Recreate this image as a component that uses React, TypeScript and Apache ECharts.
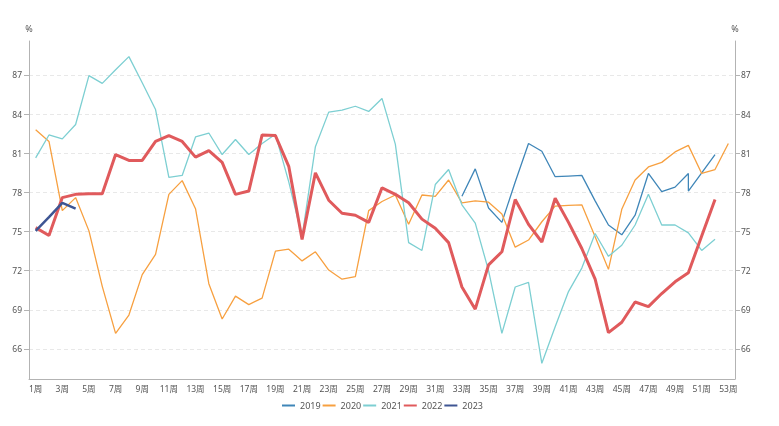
import React, { useEffect, useRef } from "react";
import * as echarts from "echarts";

const weeks = [
  "1周", "2周", "3周", "4周", "5周", "6周", "7周", "8周", "9周", "10周",
  "11周", "12周", "13周", "14周", "15周", "16周", "17周", "18周", "19周", "20周",
  "21周", "22周", "23周", "24周", "25周", "26周", "27周", "28周", "29周", "30周",
  "31周", "32周", "33周", "34周", "35周", "36周", "37周", "38周", "39周", "40周",
  "41周", "42周", "43周", "44周", "45周", "46周", "47周", "48周", "49周", "50周",
  "51周", "52周", "53周",
];

const yTicks = [66, 69, 72, 75, 78, 81, 84, 87];
const yMin = 63.7;
const yMax = 89.6;

const weeks2019 = [
  "33周", "34周", "35周", "36周", "37周", "38周", "39周", "40周", "41周", "42周",
  "43周", "44周", "45周", "46周", "47周", "48周", "49周", "50周", "50周", "51周", "52周",
];
const values2019 = [
  77.7, 79.8, 76.8, 75.7, 78.8, 81.75, 81.15, 79.2, 79.25, 79.3,
  77.35, 75.5, 74.75, 76.25, 79.45, 78.05, 78.4, 79.45, 78.1, 79.5, 80.9,
];

const values2020 = [
  82.8, 81.9, 76.6, 77.6, 75.05, 70.8, 67.2, 68.6, 71.7, 73.25,
  77.85, 78.9, 76.75, 71.0, 68.3, 70.05, 69.4, 69.9, 73.5, 73.65,
  72.75, 73.45, 72.05, 71.35, 71.55, 76.6, 77.3, 77.8, 75.55, 77.8,
  77.7, 78.95, 77.2, 77.35, 77.25, 76.35, 73.8, 74.35, 75.75, 76.95,
  77.0, 77.05, 74.6, 72.1, 76.7, 78.95, 79.95, 80.3, 81.1, 81.6,
  79.45, 79.75, 81.75,
];

const values2021 = [
  80.65, 82.4, 82.1, 83.2, 86.95, 86.35, 87.4, 88.4, 86.4, 84.35,
  79.15, 79.3, 82.25, 82.55, 80.9, 82.05, 80.9, 81.75, 82.45, 78.8,
  74.6, 81.5, 84.15, 84.3, 84.6, 84.2, 85.2, 81.7, 74.15, 73.55,
  78.6, 79.75, 77.05, 75.65, 72.0, 67.2, 70.75, 71.1, 64.9, 67.7,
  70.4, 72.2, 74.85, 73.1, 73.95, 75.5, 77.85, 75.5, 75.5, 74.9,
  73.55, 74.4,
];

const values2022 = [
  75.3, 74.7, 77.6, 77.85, 77.9, 77.9, 80.9, 80.45, 80.45, 81.9,
  82.35, 81.9, 80.7, 81.2, 80.3, 77.85, 78.1, 82.4, 82.35, 80.0,
  74.4, 79.5, 77.4, 76.4, 76.25, 75.7, 78.35, 77.85, 77.2, 75.95,
  75.25, 74.15, 70.75, 69.05, 72.45, 73.45, 77.45, 75.55, 74.2, 77.55,
  75.7, 73.7, 71.35, 67.25, 68.05, 69.6, 69.25, 70.25, 71.15, 71.85,
  74.65, 77.45,
];

const values2023 = [75.05, 76.1, 77.2, 76.75];

const seriesNames = ["2019", "2020", "2021", "2022", "2023"];
const seriesColors = ["#3f86b8", "#f7a040", "#7dcfd2", "#e05a5c", "#3e5593"];
const seriesWidths = [1.3, 1.3, 1.3, 3, 2.5];

const FONT = '"Noto Sans", "Noto Sans CJK SC", sans-serif';

export default function App() {
  const ref = useRef<HTMLDivElement>(null);

  useEffect(() => {
    if (!ref.current) return;
    const chart = echarts.init(ref.current, undefined, { renderer: "svg" });

    const pairs2019 = weeks2019.map((w, i) => [w, values2019[i]]);
    const dataList: any[] = [pairs2019, values2020, values2021, values2022, values2023];

    const axisColor = "#b3b3b3";
    const labelColor = "#555";

    const yAxisCommon = {
      type: "value",
      min: yMin,
      max: yMax,
      name: "%",
      nameGap: 8,
      nameTextStyle: { color: labelColor, fontSize: 9, fontFamily: FONT },
      axisLine: { show: true, lineStyle: { color: axisColor } },
      axisTick: { show: true, customValues: yTicks, lineStyle: { color: axisColor } },
      axisLabel: { customValues: yTicks, color: labelColor, fontSize: 8.5, fontFamily: FONT },
    };

    chart.setOption({
      animation: false,
      textStyle: { fontFamily: FONT },
      grid: { left: 29, right: 44, top: 41, bottom: 47, containLabel: false },
      legend: {
        data: seriesNames,
        left: 277,
        top: 396,
        padding: 5,
        icon: "rect",
        itemWidth: 13,
        itemHeight: 2,
        itemGap: 2,
        textStyle: { color: labelColor, fontSize: 9, fontFamily: FONT },
      },
      xAxis: {
        type: "category",
        data: weeks,
        boundaryGap: true,
        axisLine: { lineStyle: { color: axisColor } },
        axisTick: { alignWithLabel: true, interval: 1, lineStyle: { color: axisColor } },
        axisLabel: { interval: 1, color: labelColor, fontSize: 8.5, margin: 5, fontFamily: FONT },
      },
      yAxis: [
        {
          ...yAxisCommon,
          position: "left",
          axisLabel: { ...yAxisCommon.axisLabel, margin: 7 },
          splitLine: { show: true, lineStyle: { color: "#e8e8e8", type: [4, 3], width: 1 } },
        },
        {
          ...yAxisCommon,
          position: "right",
          axisLabel: { ...yAxisCommon.axisLabel, margin: 6 },
          splitLine: { show: false },
        },
      ],
      series: seriesNames.map((name, i) => ({
        name,
        type: "line",
        yAxisIndex: 0,
        data: dataList[i],
        symbol: "none",
        connectNulls: false,
        z: i === 3 ? 3 : i === 4 ? 4 : 2,
        lineStyle: { color: seriesColors[i], width: seriesWidths[i] },
        itemStyle: { color: seriesColors[i] },
      })),
    });

    return () => chart.dispose();
  }, []);

  return (
    <div
      ref={ref}
      style={{ position: "fixed", left: 0, top: 0, width: 779, height: 426 }}
    />
  );
}
